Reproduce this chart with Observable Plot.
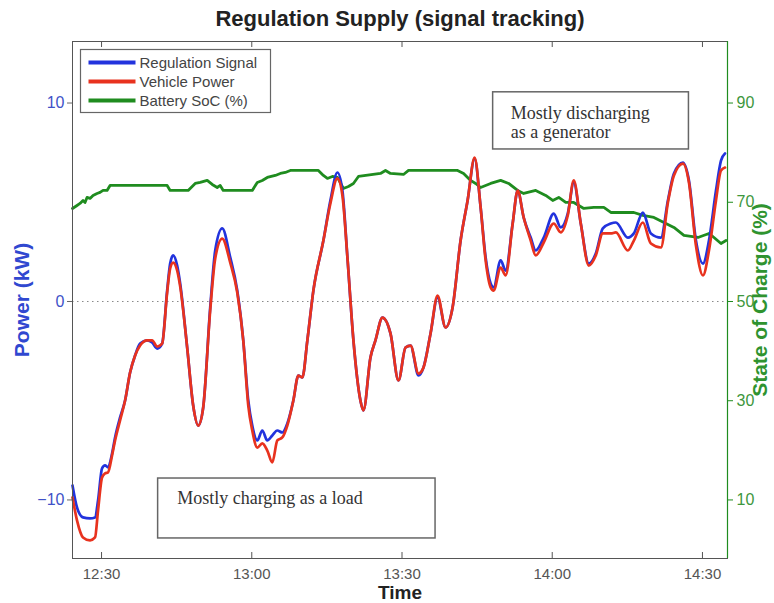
<!DOCTYPE html>
<html>
<head>
<meta charset="utf-8">
<script src="https://cdn.jsdelivr.net/npm/d3@7"></script>
<script src="https://cdn.jsdelivr.net/npm/@observablehq/plot@0.6"></script>
<style>
  html, body { margin: 0; padding: 0; background: #fff; }
  #chart svg { display: block; }
</style>
</head>
<body>
<div id="chart"></div>
<script>
// Sample times, in minutes after 12:00, for the power traces
const minutesPastNoon = [24.2,25.1,26.3,27.7,28.7,29.3,30.1,30.7,31.3,32.1,32.7,33.7,34.7,35.7,36.7,37.7,39.1,40.1,41.1,42.1,43.1,43.7,44.3,45.1,45.7,47.1,48.3,49.3,50.3,51.7,52.7,54.1,55.7,57.1,58.3,59.3,60.1,61.1,62.1,63.1,64.1,65.1,66.1,67.1,68.3,69.3,70.1,71.1,72.3,74.3,75.7,77.1,78.1,79.1,80.3,81.7,82.3,83.7,84.7,86.1,87.7,89.3,90.7,91.7,93.3,94.3,95.7,97.1,98.7,100.1,101.7,103.1,104.5,105.7,106.7,107.7,108.3,109.7,110.7,112.1,113.1,114.3,115.7,116.7,118.3,120.3,121.7,123.1,124.3,125.7,127.3,128.7,130.1,131.7,132.7,135.1,136.3,138.1,139.7,141.7,143.1,144.3,146.1,147.3,148.7,150.1,151.3,152.7,153.7,154.5];

// Regulation signal (kW)
const regulationSignal = [-9.27,-10.38,-10.88,-10.93,-10.88,-10.03,-8.41,-8.26,-8.36,-7.66,-6.85,-5.84,-4.99,-3.58,-2.72,-2.12,-1.96,-2.07,-2.37,-2.12,0.55,1.91,2.32,1.81,0.91,-2.32,-5.24,-6.25,-5.34,-0.30,2.57,3.68,2.22,0.55,-1.96,-4.99,-6.25,-7.00,-6.50,-7.00,-6.75,-6.50,-6.60,-6.15,-4.99,-3.73,-3.83,-1.96,0.55,3.07,5.09,6.50,5.59,2.22,-1.96,-4.99,-5.49,-2.82,-1.96,-0.81,-1.61,-3.98,-2.32,-2.22,-3.73,-3.32,-1.61,0.20,-1.31,-0.30,3.07,5.09,7.20,4.74,2.22,0.91,0.71,2.07,1.56,3.93,5.59,4.23,3.22,2.57,3.22,4.43,3.73,4.43,5.99,3.93,1.91,2.42,3.68,3.93,3.98,3.22,3.43,4.48,3.43,3.22,5.09,6.45,7.00,6.10,3.07,1.91,3.07,5.59,7.10,7.46];

// Vehicle power (kW)
const vehiclePower = [-9.87,-11.03,-11.89,-12.04,-11.89,-10.53,-8.87,-8.66,-8.61,-7.76,-7.00,-5.99,-4.99,-3.58,-2.72,-2.22,-1.96,-1.96,-2.27,-2.12,0.45,1.66,1.96,1.56,0.76,-2.32,-5.24,-6.25,-5.34,-0.45,2.17,3.17,1.96,0.45,-1.96,-5.24,-6.50,-7.36,-7.15,-7.51,-8.11,-7.00,-6.85,-6.25,-4.99,-3.73,-3.83,-1.96,0.55,3.07,4.94,6.20,5.34,2.22,-1.96,-4.99,-5.49,-2.82,-1.96,-0.81,-1.61,-3.98,-2.32,-2.22,-3.63,-3.32,-1.61,0.30,-1.31,-0.30,3.07,5.09,7.25,4.74,2.07,0.71,0.55,1.71,1.31,3.93,5.59,4.23,3.07,2.32,2.97,3.93,3.48,4.33,6.10,3.93,1.81,2.32,3.43,3.43,3.48,2.57,3.07,3.98,2.92,2.72,4.99,6.35,6.95,6.00,2.82,1.31,2.57,5.09,6.60,6.75];

// Battery state of charge (%), with its own sample times (minutes after 12:00)
const socMinutesPastNoon = [24.2,25.1,25.7,26.3,26.7,27.1,27.7,28.3,29.1,29.7,30.3,31.1,31.7,43.1,43.7,47.3,48.7,49.7,51.1,52.1,53.1,53.7,54.3,60.1,61.1,62.1,63.1,64.7,65.7,66.7,67.7,73.3,74.3,75.1,76.1,77.1,78.3,79.3,80.3,81.3,85.7,86.7,87.7,90.3,91.3,101.1,102.3,103.7,104.7,105.7,107.7,109.7,111.3,113.1,114.3,116.7,118.7,120.1,121.3,122.7,124.3,126.3,128.3,130.3,131.7,136.3,138.1,140.3,142.3,144.3,146.3,149.1,151.3,152.3,153.7,154.7];
const batterySoC = [68.75,69.35,69.76,70.36,69.96,70.97,70.77,71.37,71.77,71.98,72.38,72.38,73.39,73.39,72.38,72.38,73.79,73.99,74.40,73.59,72.98,73.39,72.38,72.38,73.99,74.40,75.00,75.40,75.81,76.01,76.41,76.41,75.40,74.80,75.20,75.00,72.78,73.19,73.79,75.20,75.81,76.41,75.81,75.60,76.41,76.41,75.81,74.40,73.79,72.98,73.79,74.40,73.79,72.38,71.77,72.38,71.37,70.36,70.97,69.96,69.96,68.75,68.95,68.95,67.94,67.94,67.34,66.94,65.93,64.92,63.31,62.90,63.71,62.90,61.69,62.30];

// Axis ticks
const timeTickLabels = ["12:30", "13:00", "13:30", "14:00", "14:30"];
const powerTicks = [-10, 0, 10];
const socTicks = [10, 30, 50, 70, 90];

// Series names for the legend
const seriesNames = ["Regulation Signal", "Vehicle Power", "Battery SoC (%)"];

// Notes placed on the chart: [start, end] times (minutes after 12:00), [top, bottom] kW
const notes = [
  {text: "Mostly discharging\nas a generator", t: [108.2, 147.3], kw: [10.54, 7.66], textT: 111.7, textKw: 9.04},
  {text: "Mostly charging as a load", t: [41.3, 96.7], kw: [-8.92, -11.94], textT: 45.1, textKw: -9.92}
];

// ---- helpers ----
const noon = Date.UTC(2013, 0, 1, 12, 0, 0);
const at = m => new Date(noon + m * 60000);
const clock = s => { const [h, m] = s.split(":").map(Number); return at((h - 12) * 60 + m); };
// SoC shares the kW axis: 50 % sits on 0 kW and 4 % spans 1 kW
const socToKw = s => (s - 50) / 4;
const kwToSoc = k => 50 + 4 * k;

const BLUE = "#2233dd", RED = "#e8321e", GREEN = "#1f8c1f";
const SANS = "'Liberation Sans', Arial, sans-serif";

const power = minutesPastNoon.map((m, i) => ({t: at(m), signal: regulationSignal[i], vehicle: vehiclePower[i]}));
const soc = socMinutesPastNoon.map((m, i) => ({t: at(m), v: socToKw(batterySoC[i])}));
const timeTicks = timeTickLabels.map(clock);
const xStart = at(24.2), xEnd = at(155.0);

const W = 774, H = 603, mt = 41, mr = 47, mb = 45, ml = 72;
const frameH = H - mt - mb;

const chart = Plot.plot({
  width: W,
  height: H,
  marginTop: mt,
  marginRight: mr,
  marginBottom: mb,
  marginLeft: ml,
  style: {fontFamily: SANS, fontSize: "15px", background: "#fff"},
  x: {type: "utc", domain: [xStart, xEnd]},
  y: {domain: [-12.95, 13.1]},
  marks: [
    // dotted zero line
    Plot.ruleY([0], {stroke: "#8a8a8a", strokeWidth: 1.2, strokeDasharray: "1.5,3.5"}),
    // note boxes
    Plot.rect(notes, {x1: d => at(d.t[0]), x2: d => at(d.t[1]), y1: d => d.kw[0], y2: d => d.kw[1], fill: "#fff", stroke: "#666", strokeWidth: 1.5}),
    Plot.text(notes, {x: d => at(d.textT), y: d => d.textKw, text: "text", textAnchor: "start", lineAnchor: "middle", lineHeight: 1.05, fontFamily: "'Liberation Serif', 'Times New Roman', serif", fontSize: 18, fill: "#333"}),
    // series
    Plot.line(soc, {x: "t", y: "v", stroke: GREEN, strokeWidth: 2.8}),
    Plot.line(power, {x: "t", y: "signal", stroke: BLUE, strokeWidth: 2.7, curve: "monotone-x"}),
    Plot.line(power, {x: "t", y: "vehicle", stroke: RED, strokeWidth: 2.7, curve: "monotone-x"}),
    // box and axes
    Plot.frame({stroke: "#555", strokeWidth: 1}),
    Plot.ruleX([xEnd], {stroke: GREEN, strokeWidth: 1.2}),
    Plot.tickX(timeTicks, {x: d => d, insetTop: frameH - 6, stroke: "#555"}),
    Plot.tickX(timeTicks, {x: d => d, insetBottom: frameH - 6, stroke: "#555"}),
    Plot.axisX({ticks: timeTicks, anchor: "bottom", tickSize: 0, tickPadding: 10, tickFormat: d3.utcFormat("%H:%M"), fill: "#555", fontSize: 15, label: null}),
    Plot.axisY({ticks: powerTicks, anchor: "left", tickSize: 5, tickPadding: 3, stroke: "#666", fill: "#4052c8", fontSize: 16, tickFormat: d => d < 0 ? "\u2212" + Math.abs(d) : String(d), label: null}),
    Plot.axisY({ticks: socTicks.map(socToKw), anchor: "right", tickSize: 5, tickPadding: 4, stroke: GREEN, fill: "#3d973d", fontSize: 16, tickFormat: d => String(Math.round(kwToSoc(d))), label: null}),
    // titles
    Plot.text(["Regulation Supply (signal tracking)"], {frameAnchor: "top", dy: -23, lineAnchor: "middle", textAnchor: "middle", fontSize: 22, fontWeight: "bold", fill: "#222"}),
    Plot.text(["Time"], {frameAnchor: "bottom", dy: 34, lineAnchor: "middle", textAnchor: "middle", fontSize: 19, fontWeight: "bold", fill: "#222"}),
    Plot.text(["Power (kW)"], {frameAnchor: "left", dx: -50, rotate: -90, lineAnchor: "middle", textAnchor: "middle", fontSize: 21, fontWeight: "bold", fill: "#3048d0"}),
    Plot.text(["State of Charge (%)"], {frameAnchor: "right", dx: 33, rotate: -90, lineAnchor: "middle", textAnchor: "middle", fontSize: 21, fontWeight: "bold", fill: "#2f932f"})
  ]
});

// Legend in the upper-left corner of the plot area
const svg = d3.select(chart);
const lg = svg.append("g").attr("transform", "translate(80.5,49.5)");
lg.append("rect").attr("width", 190).attr("height", 63).attr("fill", "#fff").attr("stroke", "#666").attr("stroke-width", 1.2);
const legendColors = [BLUE, RED, GREEN];
seriesNames.forEach((name, i) => {
  const y = 13 + i * 19;
  lg.append("line").attr("x1", 8).attr("x2", 55).attr("y1", y).attr("y2", y)
    .attr("stroke", legendColors[i]).attr("stroke-width", 4);
  lg.append("text").attr("x", 59).attr("y", y).attr("dy", "0.35em")
    .attr("text-anchor", "start")
    .attr("font-family", SANS).attr("font-size", 15)
    .attr("fill", "#444").text(name);
});

document.getElementById("chart").appendChild(chart);
</script>
</body>
</html>
